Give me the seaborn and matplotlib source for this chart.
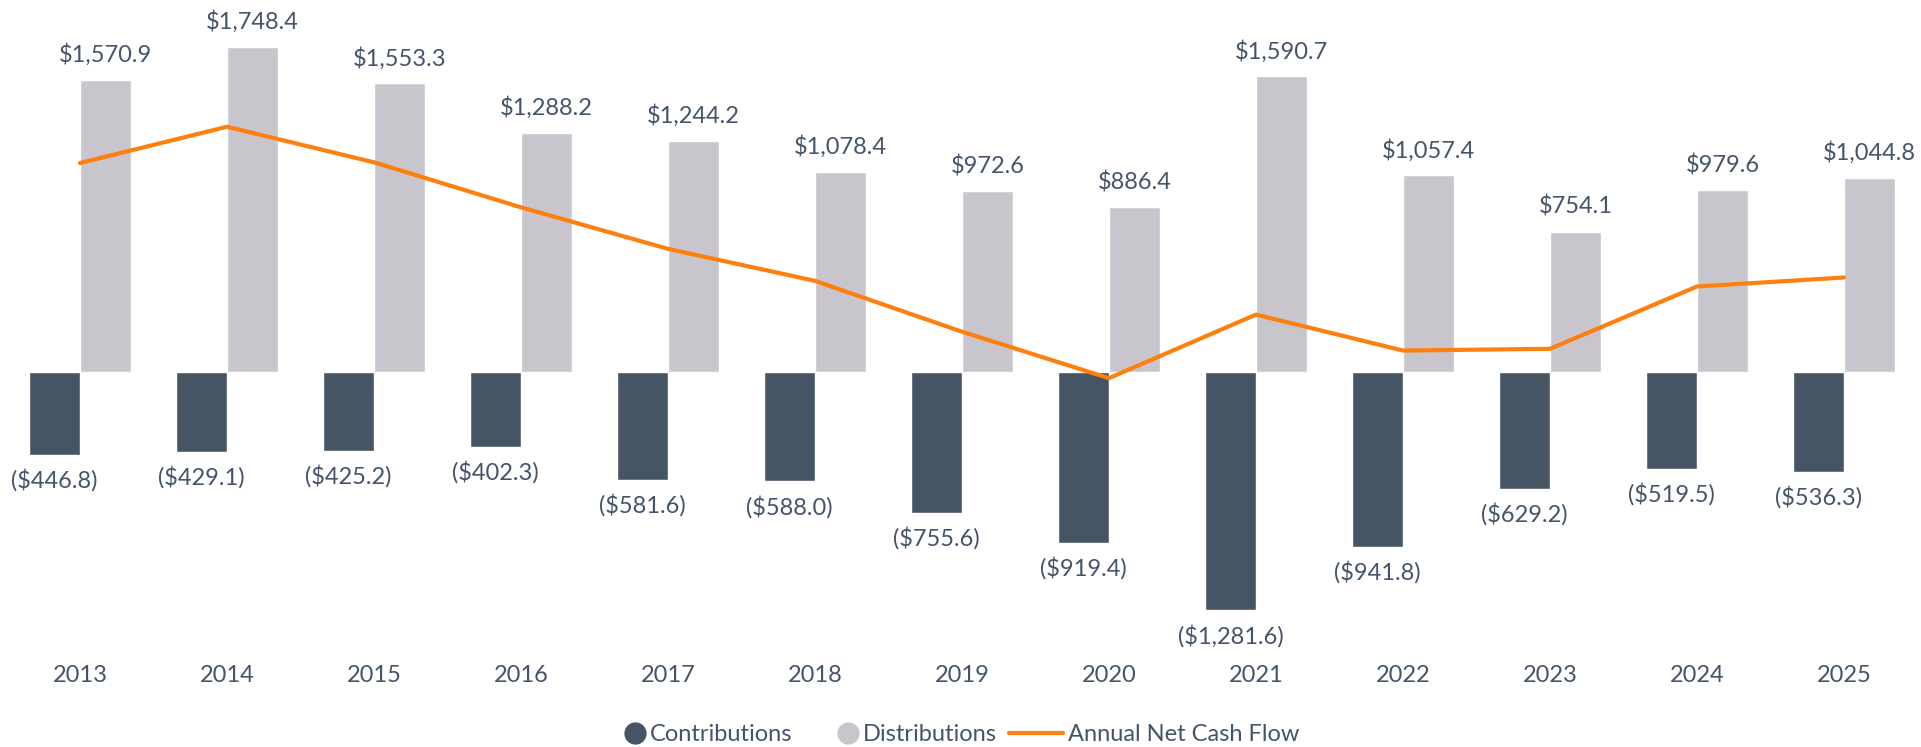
import numpy as np
import pandas as pd
import seaborn as sns
import matplotlib.pyplot as plt
from matplotlib.lines import Line2D
from matplotlib.legend_handler import HandlerBase

# Data ($M)
years = ['2013', '2014', '2015', '2016', '2017', '2018', '2019',
         '2020', '2021', '2022', '2023', '2024', '2025']
contributions = [-446.8, -429.1, -425.2, -402.3, -581.6, -588.0, -755.6,
                 -919.4, -1281.6, -941.8, -629.2, -519.5, -536.3]
distributions = [1570.9, 1748.4, 1553.3, 1288.2, 1244.2, 1078.4, 972.6,
                 886.4, 1590.7, 1057.4, 754.1, 979.6, 1044.8]
net_cash_flow = [d + c for d, c in zip(distributions, contributions)]

TEXT = '#44546A'
DARK = '#465563'
LIGHT = '#C8C6CC'
ORANGE = '#FF7F0E'
FS = 17


def money(v):
    s = f"${abs(v):,.1f}"
    return f"({s})" if v < 0 else s


class CircleHandler(HandlerBase):
    # circle drawn at the right end of the handle box, next to its label
    def create_artists(self, legend, orig_handle, xdescent, ydescent,
                       width, height, fontsize, trans):
        c = orig_handle.get_markerfacecolor()
        m = Line2D([width - xdescent - 7.5], [height / 2 - ydescent],
                   marker='o', linestyle='none', markersize=15,
                   markerfacecolor=c, markeredgecolor=c)
        m.set_transform(trans)
        return [m]


def create_chart():
    sns.set_style("white")
    plt.rcParams['font.family'] = ['Lato', 'DejaVu Sans']

    df = pd.DataFrame({
        'year': years * 2,
        'value': contributions + distributions,
        'kind': ['Contributions'] * len(years) + ['Distributions'] * len(years),
    })

    fig = plt.figure(figsize=(19.21, 7.47), dpi=100)
    ax = fig.add_axes([0, 1 - 650 / 747, 1, 650 / 747])

    sns.barplot(data=df, x='year', y='value', hue='kind',
                palette=[DARK, LIGHT], width=0.694, saturation=1,
                dodge=True, legend=False, ax=ax)

    sns.lineplot(x=np.arange(len(years)), y=net_cash_flow, color=ORANGE,
                 linewidth=3, ax=ax)

    for cont, vals in zip(ax.containers, [contributions, distributions]):
        ax.bar_label(cont, labels=[money(v) for v in vals], padding=10,
                     fontsize=FS, color=TEXT)

    ax.set_xlim(-0.544, 12.524)
    ax.set_ylim(-1495, 2001)
    ax.set_xlabel('')
    ax.set_ylabel('')
    ax.set_yticks([])
    ax.tick_params(axis='x', length=0, pad=11, labelsize=FS, labelcolor=TEXT)
    sns.despine(ax=ax, left=True, bottom=True)

    h_contrib = Line2D([], [], marker='o', markerfacecolor=DARK)
    h_dist = Line2D([], [], marker='o', markerfacecolor=LIGHT)
    h_net = Line2D([], [], color=ORANGE, linewidth=3)
    leg = fig.legend([h_contrib, h_dist, h_net],
                     ['Contributions', 'Distributions', 'Annual Net Cash Flow'],
                     loc='center', bbox_to_anchor=(0.492, 0.017), ncol=3,
                     frameon=False, fontsize=FS, handletextpad=0.2,
                     columnspacing=0.5, handlelength=2.3,
                     handler_map={h_contrib: CircleHandler(),
                                  h_dist: CircleHandler()})
    for t in leg.get_texts():
        t.set_color(TEXT)

    fig.savefig('out.png', dpi=100)


if __name__ == "__main__":
    create_chart()
